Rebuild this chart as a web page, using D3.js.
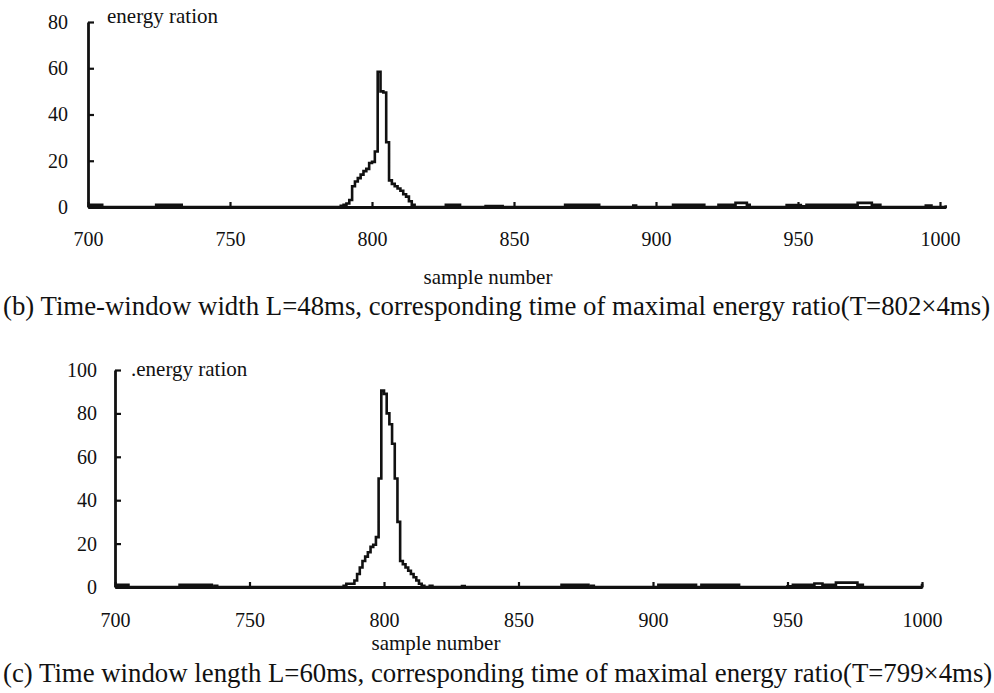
<!DOCTYPE html>
<html>
<head>
<meta charset="utf-8">
<script src="https://cdn.jsdelivr.net/npm/d3@7/dist/d3.min.js"></script>
<style>
  html, body { margin: 0; padding: 0; background: #fff; }
  svg { display: block; }
  svg text { font-family: "Liberation Serif", "Times New Roman", Times, serif !important; fill: #111; }
</style>
</head>
<body>
<svg id="fig" width="994" height="693"></svg>
<script>
// Panel (b): L = 48 ms. Change points of a stepped energy-ratio trace (sample number -> value).
const bSamples = [700, 705, 724, 733, 789, 790, 791, 792, 793, 794, 795, 796, 797, 798, 799, 800, 801, 802, 803, 804, 805, 806, 807, 808, 809, 810, 811, 812, 813, 814, 815,
                  826, 831, 840, 846, 868, 880, 892, 893, 906, 917, 922, 928, 932, 933, 946, 951, 953, 971, 976, 979, 995, 997, 1002];
const bValues  = [1, 0, 1, 0, 0.5, 1, 1.5, 3, 9, 11, 12.5, 14, 15.5, 16.5, 19, 19.5, 24, 58.5, 50, 49.5, 28, 11.5, 10, 9, 8, 7, 5.5, 4.5, 2.5, 1, 0,
                  1, 0, 0.4, 0, 1, 0, 0.6, 0, 1, 0, 1, 1.8, 1, 0, 0.8, 0.3, 1, 1.8, 1, 0, 0.6, 0, 0.8];

// Panel (c): L = 60 ms.
const cSamples = [700, 705, 724, 736, 737, 738, 785, 786, 789, 790, 791, 792, 793, 794, 795, 796, 797, 798, 799, 800, 801, 802, 803, 804, 805, 806, 807, 808, 809, 810, 811, 812, 813, 814, 815,
                  817, 818, 829, 830, 866, 876, 877, 878, 902, 916, 918, 932, 950, 952, 960, 963, 968, 976, 978, 999, 1000];
const cValues  = [1, 0, 1, 0, 0.6, 0, 0.5, 1.5, 3, 6, 9, 12, 14, 16, 18.5, 19.5, 23, 50, 90.5, 89, 80, 75, 66, 50, 30, 12, 10.5, 9, 7.5, 6, 4.5, 3, 1.5, 0.5, 0,
                  0.5, 0, 0.4, 0, 1, 0, 0.6, 0, 1, 0, 1, 0, 0.3, 1, 1.6, 1, 2, 1, 0, 0, 1.5];

const xTicks = [700, 750, 800, 850, 900, 950, 1000];
const bYTicks = [0, 20, 40, 60, 80];
const cYTicks = [0, 20, 40, 60, 80, 100];

const yLabel = "energy ration";
const xLabel = "sample number";
const bCaption = "(b) Time-window width L=48ms, corresponding time of maximal energy ratio(T=802×4ms)";
const cCaption = "(c) Time window length L=60ms, corresponding time of maximal energy ratio(T=799×4ms)";

const SERIF = '"Liberation Serif", "Times New Roman", Times, serif';
const svg = d3.select("#fig");

function panel(cfg) {
  const g = svg.append("g");
  const x = d3.scaleLinear().domain(cfg.xDomain).range(cfg.xRange);
  const y = d3.scaleLinear().domain(cfg.yDomain).range(cfg.yRange);

  // x axis, inward ticks
  const xa = g.append("g")
    .attr("transform", `translate(0,${y(0)})`)
    .call(d3.axisBottom(x).tickValues(xTicks).tickFormat(d3.format("d"))
      .tickSizeInner(-5).tickSizeOuter(0).tickPadding(cfg.xPad));
  // y axis, inward ticks
  const ya = g.append("g")
    .attr("transform", `translate(${x(700)},0)`)
    .call(d3.axisLeft(y).tickValues(cfg.yTicks).tickFormat(d3.format("d"))
      .tickSizeInner(-6).tickSizeOuter(0).tickPadding(cfg.yPad));

  [xa, ya].forEach(a => {
    a.attr("font-family", null).style("font-family", SERIF);
    a.select(".domain").attr("stroke", "#111").attr("stroke-width", 2.8);
    a.selectAll(".tick line").attr("stroke", "#111").attr("stroke-width", 2.2);
    a.selectAll(".tick text").style("font-family", SERIF).style("font-size", "20px").attr("fill", "#111");
  });

  // data trace
  const pts = cfg.samples.map((s, i) => [s, cfg.values[i]]);
  g.append("path")
    .datum(pts)
    .attr("fill", "none")
    .attr("stroke", "#111")
    .attr("stroke-width", 2.6)
    .attr("d", d3.line().x(d => x(d[0])).y(d => y(d[1])).curve(d3.curveStepAfter));

  g.append("text")
    .attr("x", cfg.yLabelPos[0]).attr("y", cfg.yLabelPos[1])
    .style("font-size", "21px")
    .text(cfg.yLabelText);

  g.append("text")
    .attr("x", cfg.xLabelPos[0]).attr("y", cfg.xLabelPos[1])
    .attr("text-anchor", "middle")
    .style("font-size", "21px")
    .text(xLabel);

  g.append("text")
    .attr("x", 3).attr("y", cfg.captionY)
    .style("font-size", "26.8px")
    .text(cfg.caption);
}

panel({
  samples: bSamples, values: bValues,
  xDomain: [700, 1002], xRange: [88, 88 + 302 * 2.84],
  yDomain: [0, 80], yRange: [207, 22], yTicks: bYTicks,
  xPad: 25, yPad: 20,
  yLabelText: yLabel, yLabelPos: [107, 23],
  xLabelPos: [488, 284],
  caption: bCaption, captionY: 315
});

panel({
  samples: cSamples, values: cValues,
  xDomain: [700, 1000], xRange: [115, 922],
  yDomain: [0, 100], yRange: [587, 370], yTicks: cYTicks,
  xPad: 26, yPad: 18,
  yLabelText: "." + yLabel, yLabelPos: [131, 376],
  xLabelPos: [436, 650],
  caption: cCaption, captionY: 682
});
</script>
</body>
</html>
